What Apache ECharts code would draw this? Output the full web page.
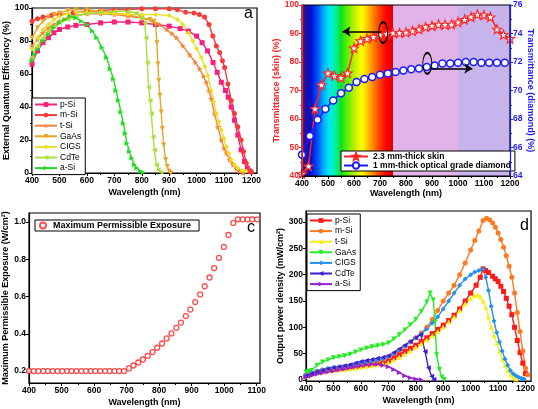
<!DOCTYPE html>
<html><head><meta charset="utf-8">
<script src="https://cdn.jsdelivr.net/npm/echarts@6/dist/echarts.min.js"></script>
<style>html,body{margin:0;padding:0;background:#fff}#c{width:538px;height:409px}</style>
</head><body><div id="c"></div>
<script>
// ---------- Panel a: EQE (%) ----------
const aNames = ['p-Si','m-Si','t-Si','GaAs','CIGS','CdTe','a-Si'];
const a_pSi = [[400,66],[420,74],[440,79],[460,82],[480,85],[500,87],[530,88.5],[560,89.5],[600,90],[650,91],[700,91.5],[750,91.5],[800,91],[850,90],[900,89],[940,87.5],[970,86],[1000,83],[1020,79],[1040,74],[1060,67],[1075,61],[1090,55],[1105,50],[1115,46],[1126,40],[1138,32],[1150,23],[1162,14],[1174,7],[1185,3],[1195,1]];
const a_mSi = [[400,92],[420,93.5],[440,94.5],[470,95.5],[500,96],[550,97],[600,98],[650,98.5],[700,99],[750,99],[800,99.5],[850,99.5],[900,99.5],[930,99],[960,97.5],[990,97],[1010,96],[1029,94.5],[1045,90],[1059,83],[1072,77],[1084,73],[1094,68],[1102,64],[1114,54],[1126,44],[1138,36],[1150,28],[1162,20],[1171,13],[1181,6],[1190,2],[1200,0.5]];
const a_tSi = [[400,77],[420,81],[440,85],[460,88],[480,90],[500,92],[530,94],[560,95.5],[600,96.5],[650,96.5],[700,96],[750,95],[800,94],[840,92],[865,90],[890,87],[910,84.5],[926,82],[950,77],[975,71.5],[995,67],[1011,63],[1025,58.5],[1035,55],[1045,50],[1053,45],[1065,36],[1077,28],[1090,20],[1100,15],[1108,12],[1120,8],[1132,5],[1145,2.5],[1156,1],[1170,0]];
const a_GaAs = [[400,82],[420,88],[440,92],[460,94.5],[480,96],[500,97],[530,98.5],[560,99],[600,99],[650,98],[700,97],[750,96],[800,94],[830,93],[845,92],[851,90],[855,79],[859,66],[862,56],[866,47],[871,37],[875,27],[880,17],[887,8],[893,4],[900,1],[906,0]];
const a_CIGS = [[400,75],[420,82],[440,87],[460,90],[480,93],[500,95],[530,96.5],[560,97.5],[600,97.5],[650,97],[700,96.5],[750,96],[800,96],[850,96],[900,95.5],[930,93],[950,90],[970,85],[986,80],[1000,75.5],[1017,70],[1030,64.5],[1041,59],[1053,50],[1062,43],[1072,36],[1081,31],[1090,26],[1099,21],[1108,16],[1117,12],[1126,8],[1138,5],[1150,3],[1165,1.5],[1180,1]];
const a_CdTe = [[400,70],[420,77],[440,82],[460,86],[480,89],[500,91],[530,93],[560,95],[600,96.5],[650,97.5],[700,98],[750,98],[780,97],[800,94],[811,91],[815,82],[820,67],[825,52],[830,44],[835,36],[841,22],[846,14],[853,5],[860,2],[870,0.5]];
const a_aSi = [[400,68],[410,72],[420,75],[440,80],[460,84],[480,88],[500,91],[520,93],[540,95],[560,94],[580,92],[600,90],[620,86],[636,82],[655,76],[672,70],[685,63],[697,57],[706,50],[715,44],[724,37],[733,30],[740,24],[746,18],[755,13],[764,9],[773,5],[782,3],[795,1],[806,0.3]];

// ---------- Panel b: transmittance ----------
const bSkinWl = [400,425,450,475,500,525,550,575,600,625,650,675,700,725,750,775,800,825,850,875,900,925,950,975,1000,1025,1050,1075,1100,1125,1150,1175,1200];
const bSkin = [40.8,43.5,63.6,72,76.1,75.2,74.5,76.1,84.9,87.4,88.2,88.8,89.5,89.9,90.2,90.2,90.4,90.9,91.5,92.3,92.7,93.2,93.1,93.2,94,94.9,95.8,96.7,96.5,95.8,91.5,89.6,88.2];
const bDiaWl = [400,430,460,490,520,550,580,610,640,670,700,730,760,790,820,850,880,910,940,970,1000,1030,1060,1090,1120,1150,1180];
const bDia = [65.5,66.8,67.95,68.7,69.3,69.8,70.2,70.6,70.8,70.95,71.1,71.2,71.3,71.4,71.5,71.55,71.65,71.75,71.9,71.9,71.95,72.0,72.0,71.95,71.95,71.95,71.95];
const bNames = ['2.3 mm-thick skin','1 mm-thick optical grade diamond'];

// ---------- Panel c: MPE ----------
const cWl = [400,415,429,444,458,473,488,502,517,531,546,561,575,590,604,619,634,648,663,677,692,707,721,736,750,765,780,794,809,823,838,853,867,882,896,911,926,940,955,969,984,999,1013,1028,1042,1057,1072,1086,1101];
const cMPE = [0.2,0.2,0.2,0.2,0.2,0.2,0.2,0.2,0.2,0.2,0.2,0.2,0.2,0.2,0.2,0.2,0.2,0.2,0.2,0.2,0.2,0.214,0.23,0.246,0.262,0.282,0.302,0.325,0.348,0.375,0.402,0.432,0.46,0.495,0.53,0.57,0.611,0.655,0.702,0.752,0.807,0.866,0.93,0.995,1.014,1.014,1.014,1.014,1.014];
const cName = 'Maximum Permissible Exposure';

// ---------- Panel d: output power density ----------
const d_pSi = [[400,8],[420,12],[440,15],[460,17],[480,19],[500,20],[520,21],[540,22],[560,24],[580,25],[600,27],[620,28],[640,30],[660,31],[680,33],[700,36],[720,42],[740,48],[760,54],[780,60],[800,66],[820,73],[840,80],[860,88],[880,96],[900,104],[920,113],[940,123],[960,135],[980,150],[1000,165],[1020,180],[1035,195],[1045,211],[1055,208],[1065,204],[1080,197],[1090,192],[1100,187],[1110,178],[1120,168],[1130,155],[1140,140],[1150,124],[1160,100],[1170,75],[1180,52],[1190,32],[1200,12]];
const d_mSi = [[400,8],[420,12],[440,16],[460,18],[480,20],[500,22],[520,23],[540,25],[560,27],[580,29],[600,31],[620,33],[640,35],[660,37],[680,40],[700,44],[720,50],[740,57],[760,64],[780,72],[800,80],[820,89],[840,100],[860,115],[880,132],[900,150],[920,165],[940,180],[960,200],[980,222],[1000,247],[1015,265],[1030,283],[1045,303],[1058,307],[1070,304],[1080,298],[1090,290],[1100,279],[1110,267],[1120,252],[1130,236],[1140,216],[1150,195],[1160,165],[1170,128],[1180,92],[1190,55],[1200,22],[1208,10]];
const d_tSi = [[400,7],[420,10],[440,13],[460,15],[480,17],[500,18],[520,19],[540,20],[560,21],[580,22],[600,24],[620,26],[640,27],[660,29],[680,31],[700,33],[720,38],[740,43],[760,49],[780,55],[800,62],[820,69],[840,76],[860,84],[880,92],[900,100],[920,110],[940,120],[960,132],[980,145],[1000,155],[1015,160],[1025,162],[1035,158],[1045,150],[1055,138],[1065,120],[1075,100],[1085,85],[1095,70],[1105,55],[1115,40],[1125,28],[1135,18],[1145,10],[1155,5],[1165,2]];
const d_GaAs = [[400,15],[410,16],[420,18],[440,28],[460,34],[480,38],[500,42],[520,44],[540,46],[560,49],[580,53],[600,57],[620,60],[640,63],[660,65],[680,67],[700,70],[720,78],[740,86],[760,95],[780,105],[800,115],[820,130],[840,148],[852,165],[864,152],[870,110],[876,48],[886,20],[896,5],[904,1]];
const d_CIGS = [[400,9],[420,13],[440,17],[460,20],[480,22],[500,24],[520,25],[540,26],[560,28],[580,30],[600,32],[620,34],[640,36],[660,38],[680,40],[700,44],[720,50],[740,57],[760,64],[780,72],[800,80],[820,88],[840,97],[860,108],[880,120],[900,135],[920,150],[940,165],[960,180],[980,192],[1000,200],[1015,205],[1030,208],[1045,211],[1055,195],[1065,170],[1075,140],[1085,112],[1095,90],[1105,72],[1115,55],[1125,40],[1135,28],[1145,18],[1155,12],[1165,8],[1175,5],[1185,3],[1195,2]];
const d_CdTe = [[400,8],[420,12],[440,15],[460,18],[480,21],[500,23],[520,25],[540,27],[560,29],[580,32],[600,35],[620,37],[640,39],[660,41],[680,43],[700,46],[720,52],[740,59],[760,66],[780,73],[800,80],[818,86],[834,54],[846,23],[858,7],[866,1]];
const d_aSi = [[400,5],[420,8],[440,11],[460,13],[480,15],[500,17],[520,19],[540,21],[560,23],[580,25],[600,27],[620,29],[640,30],[660,30],[680,28],[700,25],[720,20],[740,14],[760,8],[780,4],[800,2],[820,0.5]];
const dNames = ['p-Si ','m-Si ','t-Si ','GaAs ','CIGS ','CdTe ','a-Si '];

// ---------- tick labels ----------
const wlTicks = [400,500,600,700,800,900,1000,1100,1200];
const wlTicksC = [400,500,600,700,800,900,1000,1100];
const mpeTicks = [0.2,0.4,0.6,0.8,1.0];
const pdTicks = [0,50,100,150,200,250,300];

const F = 'Liberation Sans, Arial, sans-serif';
const STAR = 'path://M0,-10L2.35,-3.24L9.51,-3.09L3.8,1.24L5.88,8.09L0,4L-5.88,8.09L-3.8,1.24L-9.51,-3.09L-2.35,-3.24Z';

function ax(o) {
  const col = o.color || '#000';
  const a = {
    type: 'value', min: o.min, max: o.max, name: o.name, nameLocation: 'middle', nameGap: o.nameGap,
    nameTextStyle: {fontWeight: 'bold', fontSize: 9, fontFamily: F, color: col},
    axisLine: {show: true, onZero: false, lineStyle: {color: col, width: 1.2}},
    axisTick: {show: true, length: 3, lineStyle: {color: col, width: 1}},
    minorTick: {show: o.minor !== false, splitNumber: 2, length: 2, lineStyle: {color: col, width: 1}},
    axisLabel: {fontSize: 8.5, fontWeight: 'bold', fontFamily: F, color: col, margin: 3,
      formatter: o.fmt || (v => String(v))},
    splitLine: {show: false}, z: o.z || 0
  };
  if (o.interval) a.interval = o.interval;
  if (o.ticks) { a.axisLabel.customValues = o.ticks; a.axisTick.customValues = o.ticks; }
  if (o.position) a.position = o.position;
  if (o.nameRotate !== undefined) a.nameRotate = o.nameRotate;
  if (o.gridIndex !== undefined) a.gridIndex = o.gridIndex;
  return a;
}

function ls(name, data, color, symbol, rot, xi, yi, size) {
  return {type: 'line', name, data, xAxisIndex: xi, yAxisIndex: yi, symbol, symbolRotate: rot,
    symbolSize: size || 5, showSymbol: true, showAllSymbol: true,
    lineStyle: {color, width: 1.4}, itemStyle: {color}, emphasis: {disabled: true}};
}

const aColors = ['#f5217a','#f73b3b','#f5843a','#e8a526','#e8e024','#a8e03c','#22dd22'];
const dColors = ['#ff1a1a','#ff7a1f','#f6ee1c','#22ee22','#2191f0','#3a1fd6','#9520d6'];
const syms = ['rect','circle',null,'triangle','diamond','triangle','triangle'];
const rotsA = [0,0,0,180,0,90,-90];
const aData = [a_pSi,a_mSi,a_tSi,a_GaAs,a_CIGS,a_CdTe,a_aSi];
const dData = [d_pSi,d_mSi,d_tSi,d_GaAs,d_CIGS,d_CdTe,d_aSi];
const dSyms = ['rect','circle','triangle','triangle','diamond','triangle','triangle'];
const dRots = [0,0,0,180,0,90,-90];

const series = [];
aNames.forEach((n,i) => series.push(ls(n, aData[i], aColors[i], i===2 ? STAR : syms[i], rotsA[i], 0, 0, i===2?6:5)));

const rainbow = new echarts.graphic.LinearGradient(0,0,1,0,[
  {offset:0,color:'#4a1a80'},{offset:0.04,color:'#2010a0'},{offset:0.1,color:'#0010d0'},
  {offset:0.17,color:'#0050ff'},{offset:0.24,color:'#00b0ff'},{offset:0.3,color:'#00e8f0'},
  {offset:0.37,color:'#00f0a0'},{offset:0.43,color:'#10e020'},{offset:0.5,color:'#60f000'},
  {offset:0.58,color:'#c0f000'},{offset:0.66,color:'#ffff00'},{offset:0.74,color:'#ffb000'},
  {offset:0.8,color:'#ff7000'},{offset:0.87,color:'#ff3000'},{offset:0.93,color:'#ff0000'},{offset:1,color:'#e80000'}]);

series.push({type:'line', name:bNames[0], data: bSkinWl.map((x,i)=>[x,bSkin[i]]), xAxisIndex:1, yAxisIndex:1,
  symbol: STAR, symbolSize: 9, showAllSymbol:true, z:3,
  lineStyle:{color:'#ff2222', width:1.5}, itemStyle:{color:'#fff', borderColor:'#ff2222', borderWidth:1.1},
  markArea:{silent:true, z:1, itemStyle:{opacity:1, borderWidth:0}, label:{show:false}, data:[
    [{xAxis:400, yAxis:40, itemStyle:{color:rainbow}},{xAxis:750, yAxis:100}],
    [{xAxis:750, yAxis:40, itemStyle:{color:'#e0b4e8'}},{xAxis:1000, yAxis:100}],
    [{xAxis:1000, yAxis:40, itemStyle:{color:'#c8b4ec'}},{xAxis:1200, yAxis:100}]]},
  markLine:{silent:true, symbol:['none','arrow'], symbolSize:8, label:{show:false},
    lineStyle:{type:'solid', color:'#000', width:1.5},
    data:[[{coord:[705,90.7]},{coord:[556,90.7]}]]},
  markPoint:{silent:true, symbol:'circle', symbolSize:[9,21], label:{show:false},
    itemStyle:{color:'rgba(0,0,0,0)', borderColor:'#000', borderWidth:1.4},
    data:[{coord:[712,90.3]}]}
});
series.push({type:'line', name:bNames[1], data: bDiaWl.map((x,i)=>[x,bDia[i]]), xAxisIndex:1, yAxisIndex:2,
  symbol:'circle', symbolSize:7, showAllSymbol:true, z:3,
  lineStyle:{color:'#1a1aff', width:1.5}, itemStyle:{color:'#fff', borderColor:'#1a1aff', borderWidth:1.5},
  markLine:{silent:true, symbol:['none','arrow'], symbolSize:8, label:{show:false},
    lineStyle:{type:'solid', color:'#000', width:1.5},
    data:[[{coord:[893,71.55]},{coord:[1055,71.55]}]]},
  markPoint:{silent:true, symbol:'circle', symbolSize:[9,21], label:{show:false},
    itemStyle:{color:'rgba(0,0,0,0)', borderColor:'#000', borderWidth:1.4},
    data:[{coord:[882,71.9]}]}
});
series.push({type:'scatter', name:cName, data: cWl.map((x,i)=>[x,cMPE[i]]), xAxisIndex:2, yAxisIndex:3,
  symbol:'circle', symbolSize:5, itemStyle:{color:'#fff', borderColor:'#ff2020', borderWidth:1.3}});
dNames.forEach((n,i) => series.push(ls(n, dData[i], dColors[i], dSyms[i], dRots[i], 3, 4, 5)));

const legBase = {orient:'vertical', backgroundColor:'#fff', borderColor:'#000', borderWidth:1,
  itemWidth:22, itemHeight:6, itemGap:1.6, padding:[2,4,2,2], selectedMode:false,
  textStyle:{fontSize:8.5, fontFamily:F, color:'#000', padding:[0,0,0,-2]}};

const option = {
  animation: false,
  backgroundColor: '#fff',
  grid: [
    {left:32, top:8, width:225, height:165, show:true, borderColor:'#000', borderWidth:1.2, backgroundColor:'transparent'},
    {left:302, top:5, width:208, height:171, show:true, borderColor:'#000', borderWidth:1.2, backgroundColor:'transparent', z:4},
    {left:29, top:213, width:231, height:170, show:true, borderColor:'#000', borderWidth:1.2, backgroundColor:'transparent'},
    {left:306, top:211, width:228, height:170, show:true, borderColor:'#000', borderWidth:1.2, backgroundColor:'transparent'}
  ],
  xAxis: [
    ax({gridIndex:0, min:400, max:1220, interval:100, ticks:wlTicks, name:'Wavelength (nm)', nameGap:15}),
    ax({gridIndex:1, min:400, max:1200, interval:100, name:'Wavelength (nm)', nameGap:13, z:5}),
    ax({gridIndex:2, min:400, max:1110, interval:100, ticks:wlTicksC, name:'Wavelength (nm)', nameGap:15}),
    ax({gridIndex:3, min:400, max:1220, interval:100, ticks:wlTicks, name:'Wavelength (nm)', nameGap:15})
  ],
  yAxis: [
    ax({gridIndex:0, min:0, max:100, interval:20, name:'External Quantum Efficiency (%)', nameGap:19}),
    ax({gridIndex:1, min:40, max:100, interval:10, name:'Transmittance (skin) (%)', nameGap:16, color:'#ff2020', z:5}),
    ax({gridIndex:1, min:64, max:76, interval:2, name:'Transmittance (diamond) (%)', nameGap:15, color:'#1a1aff', position:'right', nameRotate:-90, z:5}),
    ax({gridIndex:2, min:0.136, max:1.048, ticks:mpeTicks, minor:false, fmt: v => v.toFixed(1), name:'Maximum Permissible Exposure (W/cm\u00b2)', nameGap:18}),
    ax({gridIndex:3, min:-2, max:321, ticks:pdTicks, minor:false, name:'Output power density (mW/cm\u00b2)', nameGap:21})
  ],
  legend: [
    Object.assign({}, legBase, {left:32, top:98, data:aNames}),
    Object.assign({}, legBase, {left:341, top:151, itemGap:0, padding:[1,4,1,2], itemWidth:24, itemHeight:8,
      textStyle:{fontSize:8.5, fontWeight:'bold', fontFamily:F, color:'#000'}, data:bNames}),
    Object.assign({}, legBase, {left:35, top:220, padding:[1,8,1,4], itemWidth:10,
      textStyle:{fontSize:9, fontWeight:'bold', fontFamily:F, color:'#000'}, data:[cName]}),
    Object.assign({}, legBase, {left:307, top:214, data:dNames, formatter: n => n.trim()})
  ],
  graphic: [
    {type:'text', left:244, top:6, style:{text:'a', font:'16px '+F, fill:'#000'}},
    {type:'text', left:497, top:6, style:{text:'b', font:'16px '+F, fill:'#000'}},
    {type:'text', left:247, top:220, style:{text:'c', font:'16px '+F, fill:'#000'}},
    {type:'text', left:520, top:218, style:{text:'d', font:'16px '+F, fill:'#000'}}
  ],
  series
};
const chart = echarts.init(document.getElementById('c'), null, {renderer:'canvas'});
chart.setOption(option);
</script></body></html>
